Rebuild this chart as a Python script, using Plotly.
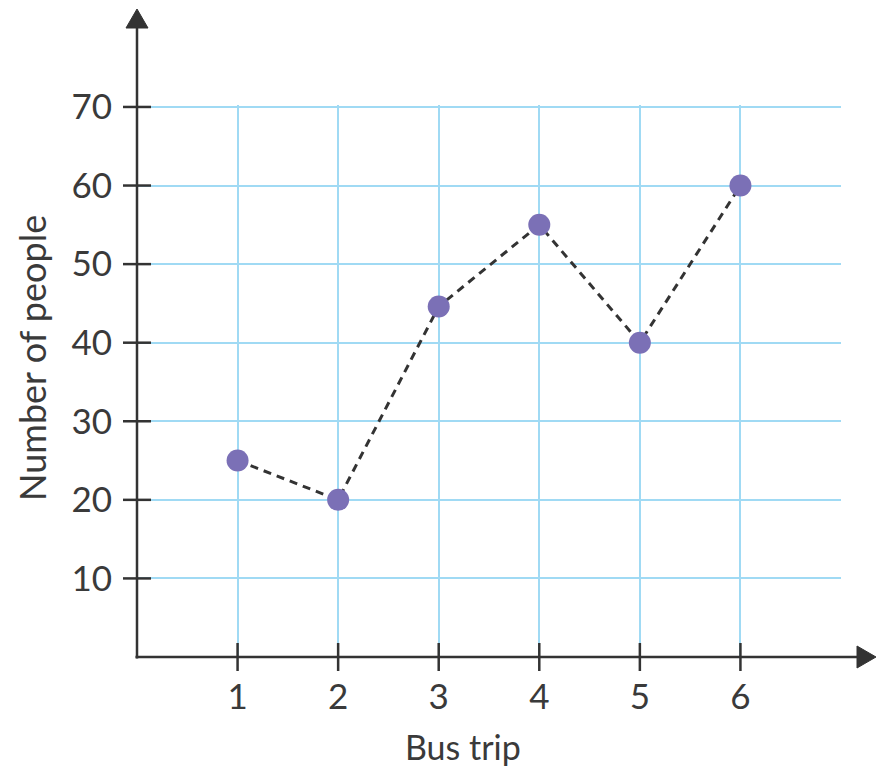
import plotly.graph_objects as go

trips = [1, 2, 3, 4, 5, 6]
people = [25, 20, 44.6, 55, 40, 60]

x_grid = [1, 2, 3, 4, 5, 6, 7]
x_labels = ["1", "2", "3", "4", "5", "6", ""]
y_ticks = [10, 20, 30, 40, 50, 60, 70]

ink = "#333333"
grid_blue = "#a0daf4"
text_col = "#3a3a3a"
tick_font = dict(family="Lato", size=35, color=text_col)

fig = go.Figure()
fig.add_trace(go.Scatter(
    x=trips, y=people, mode="lines+markers",
    line=dict(color=ink, width=3, dash="8px,6px"),
    marker=dict(color="#7b70b6", size=22),
    hoverinfo="skip",
))

shapes = []
# tick marks crossing the axes
for v in trips:
    shapes.append(dict(type="line", xref="x", yref="paper", x0=v, x1=v,
                       ysizemode="pixel", yanchor=0, y0=-14, y1=14,
                       line=dict(color=ink, width=2.5), layer="above"))
for v in y_ticks:
    shapes.append(dict(type="line", xref="paper", yref="y", y0=v, y1=v,
                       xsizemode="pixel", xanchor=0, x0=-14, x1=14,
                       line=dict(color=ink, width=2.5), layer="above"))
# axis lines with arrows
shapes.append(dict(type="line", xref="paper", yref="paper", y0=0, y1=0,
                   xsizemode="pixel", xanchor=0, x0=-1.5, x1=725,
                   line=dict(color=ink, width=2.5), layer="above"))
shapes.append(dict(type="line", xref="paper", yref="paper", x0=0, x1=0,
                   ysizemode="pixel", yanchor=0, y0=-1.5, y1=635,
                   line=dict(color=ink, width=2.5), layer="above"))
shapes.append(dict(type="path", xref="paper", yref="paper",
                   xsizemode="pixel", ysizemode="pixel", xanchor=1, yanchor=0,
                   path="M16,11 L35,0 L16,-11 Z",
                   fillcolor=ink, line=dict(color=ink, width=1), layer="above"))
shapes.append(dict(type="path", xref="paper", yref="paper",
                   xsizemode="pixel", ysizemode="pixel", xanchor=0, yanchor=1,
                   path="M-11,77 L0,96 L11,77 Z",
                   fillcolor=ink, line=dict(color=ink, width=1), layer="above"))

# the page adds an 8px body margin, so the figure is made smaller to fit
fig.update_layout(
    width=869, height=761,
    margin=dict(l=129, r=36, t=97, b=112),
    paper_bgcolor="white", plot_bgcolor="white",
    showlegend=False,
    font=tick_font,
    shapes=shapes,
    xaxis=dict(range=[0, 7], tickvals=x_grid, ticktext=x_labels,
               showgrid=True, gridcolor=grid_blue, gridwidth=2,
               zeroline=False, showline=False, ticks="",
               ticklabelstandoff=16, tickfont=tick_font),
    yaxis=dict(range=[0, 70.25], tickvals=y_ticks,
               showgrid=True, gridcolor=grid_blue, gridwidth=2,
               zeroline=False, showline=False, ticks="",
               ticklabelstandoff=24, tickfont=tick_font),
    annotations=[
        dict(text="Bus trip", xref="paper", yref="paper", x=0.4624, y=-0.2029,
             showarrow=False, xanchor="center", yanchor="bottom",
             font=dict(family="Lato", size=34, color=text_col)),
        dict(text="Number of people", xref="paper", yref="paper", x=-0.1825, y=0.541,
             showarrow=False, xanchor="left", yanchor="middle", textangle=-90,
             font=dict(family="Lato", size=36, color=text_col)),
    ],
)

fig.write_html("out.html")
